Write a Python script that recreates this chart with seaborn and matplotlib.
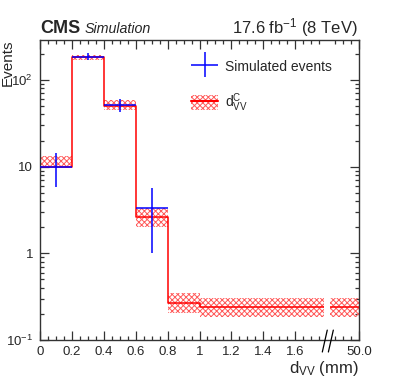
import numpy as np
import matplotlib
matplotlib.use("Agg")
import matplotlib.pyplot as plt
import seaborn as sns
from matplotlib.patches import Patch
from matplotlib.lines import Line2D
from matplotlib.container import ErrorbarContainer
from matplotlib.legend_handler import HandlerErrorbar

# bins in display coordinates (last bin = 1 mm .. 50 mm, drawn compressed)
edges = [0.0, 0.2, 0.4, 0.6, 0.8, 1.0, 2.0]
centers = [0.1, 0.3, 0.5, 0.7, 0.9, 1.5]

# d_VV^C template with its uncertainty band
pred = [10.0, 182.0, 50.0, 2.64, 0.27, 0.242]
pred_lo = [10.0, 172.0, 45.0, 2.03, 0.203, 0.183]
pred_hi = [13.4, 192.0, 59.0, 3.3, 0.345, 0.308]

# simulated events
sim_x = [0.1, 0.3, 0.5, 0.7]
sim_y = [10.0, 186.0, 51.5, 3.3]
sim_err = [4.2, 16.0, 9.0, 2.3]

xticks = [0.0, 0.2, 0.4, 0.6, 0.8, 1.0, 1.2, 1.4, 1.6, 2.0]
xticklabels = ["0", "0.2", "0.4", "0.6", "0.8", "1", "1.2", "1.4", "1.6", "50.0"]
yticks = [0.1, 1, 10, 100]
yticklabels = [r"$\mathregular{10^{-1}}$", "1", "10", r"$\mathregular{10^{2}}$"]

sns.set_style("ticks")
plt.rcParams["font.family"] = ["Liberation Sans", "DejaVu Sans"]
plt.rcParams["mathtext.fontset"] = "custom"
plt.rcParams["mathtext.rm"] = "Liberation Sans"
plt.rcParams["mathtext.it"] = "Liberation Sans:italic"
plt.rcParams["mathtext.bf"] = "Liberation Sans:bold"
plt.rcParams["hatch.linewidth"] = 0.7

band_color = "#ff5a5a"

fig = plt.figure(figsize=(3.99, 3.87), dpi=100)
ax = fig.add_axes([40 / 399, 47 / 387, 319 / 399, 300 / 387])
ax.set_yscale("log")

# uncertainty band
ax.fill_between(edges, pred_lo + [pred_lo[-1]], pred_hi + [pred_hi[-1]], step="post",
                facecolor="none", edgecolor=band_color, hatch="xxxxxx", linewidth=0, zorder=1)

# template histogram
sns.histplot(x=centers, weights=pred, bins=edges, element="step", fill=False,
             color="red", linewidth=1.1, ax=ax, zorder=2)

# simulated events
ax.errorbar(sim_x, sim_y, xerr=0.1, yerr=sim_err, fmt="none", ecolor="blue",
            elinewidth=1.1, capsize=0, zorder=3, label="Simulated events")

# axis break gap
ax.axvspan(1.78, 1.82, color="white", zorder=2.3, lw=0)
trans = ax.get_xaxis_transform()
for x0, x1 in [(1.770, 1.801), (1.808, 1.839)]:
    ax.plot([x0, x1], [-0.04, 0.033], transform=trans, clip_on=False,
            color="black", lw=0.9, zorder=5)

ax.set_xlim(0, 2.0)
ax.set_ylim(0.1, 289)

ax.set_xticks(xticks)
ax.set_xticklabels(xticklabels)
minor_x = [round(0.05 * i, 2) for i in range(1, 40)]
minor_x = [m for m in minor_x if round(m / 0.2, 6) % 1 != 0 and abs(m - 1.8) > 0.02]
ax.set_xticks(minor_x, minor=True)

ax.set_yticks(yticks)
ax.set_yticklabels(yticklabels)
ax.yaxis.set_minor_locator(matplotlib.ticker.LogLocator(base=10, subs=np.arange(2, 10)))
ax.yaxis.set_minor_formatter(matplotlib.ticker.NullFormatter())

ax.tick_params(which="both", direction="in", top=True, right=True, labelsize=9.5,
               color="#333333", width=0.9)
ax.tick_params(which="major", length=6.5, pad=4)
ax.tick_params(axis="y", which="major", pad=5)
ax.tick_params(which="minor", length=3.2)
for s in ax.spines.values():
    s.set_linewidth(1.0)
    s.set_color("#333333")

ax.set_xlabel(r"$\mathregular{d_{VV}}$ (mm)", fontsize=12, ha="right")
ax.xaxis.set_label_coords(1.0, -0.065)
ax.set_ylabel("Events", fontsize=11, loc="top")
ax.yaxis.set_label_coords(-0.079, 1.0)

ax.text(0.0, 1.022, "CMS", transform=ax.transAxes, fontsize=13, fontweight="bold",
        va="baseline", ha="left")
ax.text(0.141, 1.022, "Simulation", transform=ax.transAxes, fontsize=10.3,
        style="italic", va="baseline", ha="left")
ax.text(0.997, 1.022, r"17.6 fb$^{-1}$ (8 TeV)", transform=ax.transAxes, fontsize=12,
        va="baseline", ha="right")

# legend
handles, labels = ax.get_legend_handles_labels()
band_handle = (Patch(facecolor="none", edgecolor=band_color, hatch="xxxxxx", linewidth=0),
               Line2D([], [], color="red", lw=1.5))
handles = [handles[0], band_handle]
labels = ["Simulated events", r"$\mathregular{d_{VV}^{C}}$"]
ax.legend(handles, labels, loc="upper left", bbox_to_anchor=(0.433, 0.98),
          frameon=False, fontsize=10, handlelength=2.0, handleheight=1.3,
          handletextpad=0.5, labelspacing=1.3,
          handler_map={ErrorbarContainer: HandlerErrorbar(xerr_size=1.0, yerr_size=0.9)})

fig.savefig("out.png", dpi=100)
